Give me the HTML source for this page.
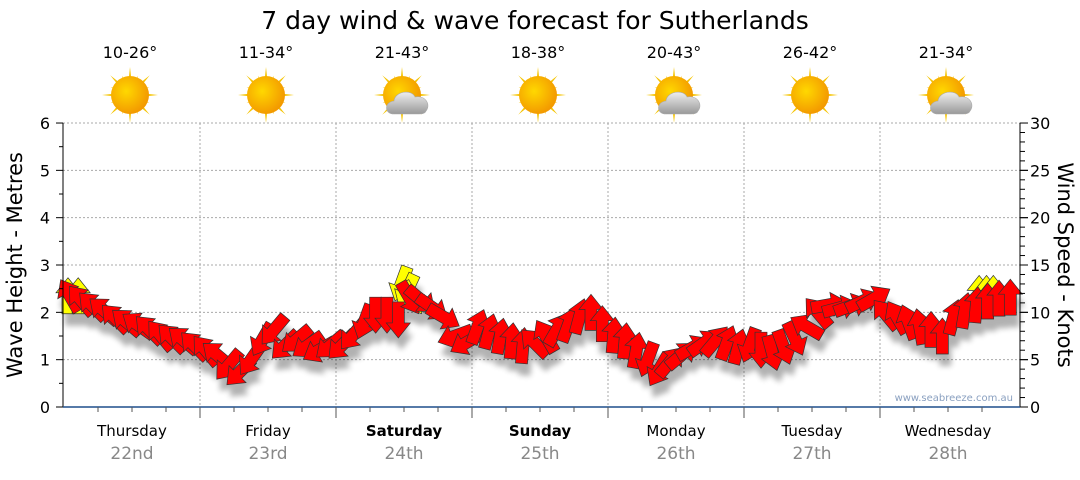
<!DOCTYPE html>
<html><head><meta charset="utf-8"><style>
body{margin:0;background:#fff;font-family:"Liberation Sans","DejaVu Sans",sans-serif}
svg text{font-family:"DejaVu Sans","Liberation Sans",sans-serif}
</style></head><body>
<svg id="c" width="1080" height="475">
<defs>
<filter id="sh" x="-50%" y="-50%" width="200%" height="200%"><feGaussianBlur stdDeviation="3"/></filter>
<radialGradient id="sun" cx="40%" cy="40%" r="60%"><stop offset="0" stop-color="#ffd800"/><stop offset="1" stop-color="#f39a00"/></radialGradient>
<linearGradient id="cl" x1="0" y1="0" x2="0" y2="1"><stop offset="0" stop-color="#eee"/><stop offset="1" stop-color="#999"/></linearGradient>
</defs>
<text x="535" y="29" font-size="25" text-anchor="middle">7 day wind &amp; wave forecast for Sutherlands</text>
<g id="grid"></g><g id="icons"></g><g id="shadows" filter="url(#sh)" opacity="0.3"></g><g id="marks"></g><g id="axes"></g>
<text x="1013" y="401" font-size="10" fill="#8aa0c0" text-anchor="end">www.seabreeze.com.au</text>
<text transform="translate(22,265) rotate(-90)" font-size="21" text-anchor="middle">Wave Height - Metres</text>
<text transform="translate(1058,265) rotate(90)" font-size="21" text-anchor="middle">Wind Speed - Knots</text>
</svg>
<script>
const days=["Thursday","Friday","Saturday","Sunday","Monday","Tuesday","Wednesday"];
const dates=["22nd","23rd","24th","25th","26th","27th","28th"];
const boldDays=[false,false,true,true,false,false,false];
const temps=["10-26°","11-34°","21-43°","18-38°","20-43°","26-42°","21-34°"];
const cloudy=[false,false,true,false,true,false,true];
const leftTicks=[0,1,2,3,4,5,6];
const rightTicks=[0,5,10,15,20,25,30];
// wind every 2 hours
const windKnots=[11.8,11.3,10.7,10.2,9.4,9.0,8.7,8.2,7.6,7.3,7.1,6.5,
6.0,5.5,4.4,3.7,5.0,7.1,8.1,6.5,7.1,6.5,6.0,6.5,
6.5,7.6,9.0,9.7,9.7,9.2,11.5,11.3,10.5,9.5,7.5,6.8,
8.5,8.0,7.5,7.0,6.5,6.8,7.5,8.2,8.7,9.6,10.0,8.8,
7.6,7.0,6.0,5.0,3.9,4.8,5.5,6.3,6.8,7.0,6.8,6.4,
6.5,6.0,5.7,6.3,7.2,8.5,10.0,10.8,10.5,10.7,11.2,11.5,
9.8,9.5,9.0,8.5,8.2,7.5,9.5,10.2,10.8,11.2,11.5,11.6];
const windDirs=[330,320,315,310,315,310,305,315,320,315,310,315,
320,310,220,225,215,210,220,225,230,235,240,230,
225,220,200,180,180,180,150,130,125,120,250,240,
20,15,10,5,5,315,330,30,20,15,0,0,
5,5,10,200,210,40,50,60,55,40,20,15,
200,180,165,160,155,300,320,80,75,70,65,60,
320,330,340,350,0,0,15,10,5,0,0,0];
const waveHours=[0.7,2.5,59.5,60.5,61.5,161.5,162.8,164];
const waveMetres=[2.35,2.35,2.6,2.45,2.3,2.4,2.4,2.4];
const waveDirs=[0,0,200,205,150,0,0,0];
const X0=64,DW=136,Y0=407,PPM=47.33;
const xH=h=>X0+h*DW/24;
const yM=m=>Y0-m*PPM;
const yK=k=>Y0-k*PPM*6/30;
const NS="http://www.w3.org/2000/svg";
function el(t,a,p){const e=document.createElementNS(NS,t);for(const k in a)e.setAttribute(k,a[k]);p.appendChild(e);return e;}
const G=document.getElementById('grid'),A=document.getElementById('axes'),I=document.getElementById('icons'),M=document.getElementById('marks'),S=document.getElementById('shadows');
leftTicks.forEach(v=>{if(v>0){const l=el('line',{x1:63,x2:1020,y1:yM(v),y2:yM(v),stroke:'#aaa','stroke-dasharray':'2,2'},G);}
const t=el('text',{x:50,y:yM(v)+6,'font-size':16,'text-anchor':'end'},A);t.textContent=v;
el('line',{x1:56,x2:63,y1:yM(v),y2:yM(v),stroke:'#000'},A);
if(v<6)el('line',{x1:59,x2:63,y1:yM(v+0.5),y2:yM(v+0.5),stroke:'#000'},A);});
for(let k=0;k<30;k++)el('line',{x1:1020,x2:k%5==0?1028:1025,y1:yK(k),y2:yK(k),stroke:'#000'},A);
rightTicks.forEach(v=>{el('line',{x1:1020,x2:1028,y1:yK(v),y2:yK(v),stroke:'#000'},A);
const t=el('text',{x:1030,y:yK(v)+6,'font-size':16},A);t.textContent=v;});
el('line',{x1:63,x2:63,y1:123,y2:407,stroke:'#000'},A);
el('line',{x1:1020,x2:1020,y1:123,y2:407,stroke:'#000'},A);
el('line',{x1:63,x2:1020,y1:407,y2:407,stroke:'#1f4e8c','stroke-width':1.5},A);
days.forEach((d,i)=>{const x0=X0+i*DW,cx=x0+DW/2;
if(i>0){const l=el('line',{x1:x0,x2:x0,y1:123,y2:407,stroke:'#aaa','stroke-dasharray':'2,2'},G);
el('line',{x1:x0,x2:x0,y1:407,y2:418,stroke:'#555'},A);}
[1,2,3].forEach(q=>el('line',{x1:x0+q*DW/4,x2:x0+q*DW/4,y1:407,y2:412,stroke:'#555'},A));
const t=el('text',{x:cx,y:436,'font-size':15,'text-anchor':'middle','font-weight':boldDays[i]?'bold':'normal'},A);t.textContent=d;
const t2=el('text',{x:cx,y:459,'font-size':17,'text-anchor':'middle',fill:'#888'},A);t2.textContent=dates[i];
const t3=el('text',{x:cx-2,y:58,'font-size':16,'text-anchor':'middle'},I);t3.textContent=temps[i];
const g=el('g',{transform:`translate(${cx-2},95)`},I);
for(let r=0;r<16;r++){const L=r%2?21:28;el('polygon',{points:`-3,0 3,0 0,${-L}`,fill:'#f5c400',transform:`rotate(${r*22.5})`},g);}
el('circle',{r:19,fill:'url(#sun)'},g);
if(cloudy[i])el('path',{d:'M-8,19 C-18,19 -18,7 -8,6 C-7,-4 10,-6 13,2 C24,0 29,10 24,16 C23,19 19,19 17,19 Z',fill:'url(#cl)',stroke:'#aaa','stroke-width':0.6},g);
});
function arrow(x,y,dir,fill,name){
const p='M0,-18 L12,-3 L6,-3 L6,18 L-6,18 L-6,-3 L-12,-3 Z';
el('path',{d:p,fill:'#000',transform:`translate(${x+3},${y+12}) rotate(${dir})`},S);
const a=el('path',{d:p,fill:fill,stroke:'#333','stroke-width':0.7,transform:`translate(${x},${y}) rotate(${dir})`},M);
}
waveHours.forEach((h,i)=>arrow(xH(h),yM(waveMetres[i]),waveDirs[i],'#ffff00','wave-arrow'));
windKnots.forEach((k,i)=>arrow(xH(i*2+1),yK(k),windDirs[i],'#ff0000','wind-arrow'));
</script>
</body></html>
